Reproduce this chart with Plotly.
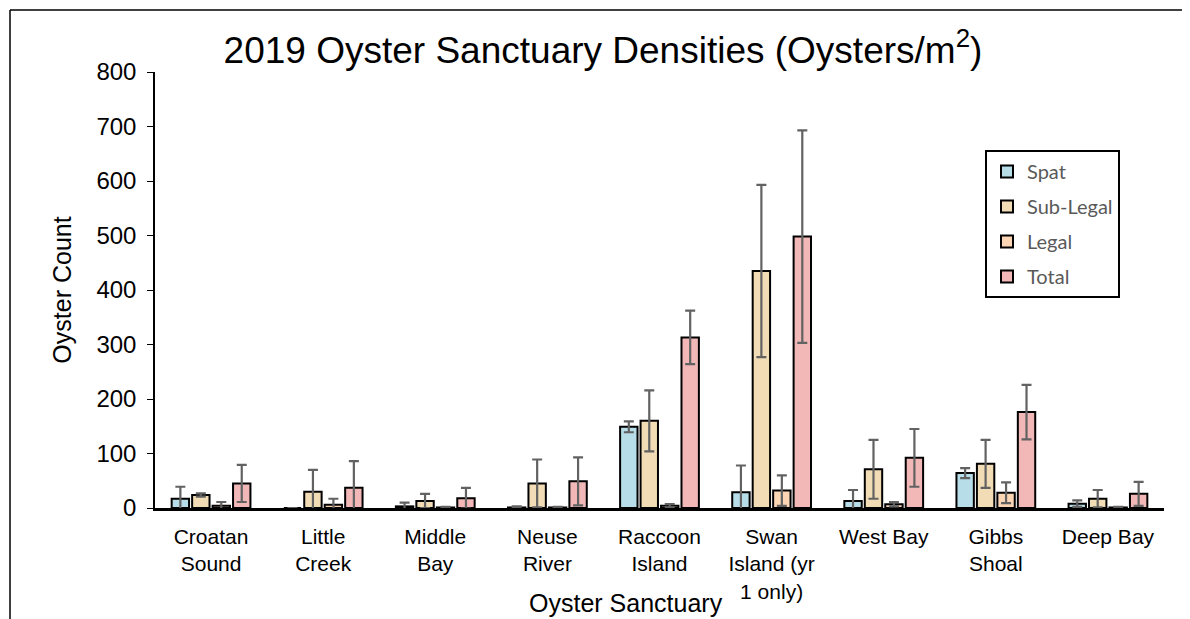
import plotly.graph_objects as go

categories = ["Croatan<br>Sound", "Little<br>Creek", "Middle<br>Bay", "Neuse<br>River",
              "Raccoon<br>Island", "Swan<br>Island (yr<br>1 only)", "West Bay",
              "Gibbs<br>Shoal", "Deep Bay"]

spat = [17, 0, 3, 1, 149, 29, 13, 64, 8]
spat_err = [22, 0, 7, 2, 10, 49, 20, 9, 6]

sublegal = [24, 30, 13, 45, 160, 435, 71, 81, 17]
sublegal_err = [3, 40, 13, 44, 56, 158, 54, 44, 16]

legal = [4, 6, 1, 1, 4, 32, 7, 28, 1]
legal_err = [7, 11, 1, 1, 3, 28, 4, 19, 1]

total = [45, 37, 18, 49, 313, 498, 92, 176, 26]
total_err = [34, 49, 19, 44, 49, 195, 53, 50, 22]

series = [
    ("Spat", spat, spat_err, "#B7DEE8"),
    ("Sub-Legal", sublegal, sublegal_err, "#F2DCB5"),
    ("Legal", legal, legal_err, "#FCD5B5"),
    ("Total", total, total_err, "#F2B8B8"),
]

# page offsets (browser body margin = 8px)
OFF = 8
W, H = 1190 - OFF, 619 - OFF
PL, PR, PT, PB = 155, 1164, 72, 508  # plot area in page pixels
pw, ph = PR - PL, PB - PT


def xp(px):
    return (px - PL) / pw


def yp(py):
    return (PB - py) / ph


fig = go.Figure()
for name, vals, errs, color in series:
    fig.add_trace(go.Bar(
        name=name, x=categories, y=vals, legendgroup=name,
        marker=dict(color=color, line=dict(color="black", width=2)),
        error_y=dict(type="data", array=errs, visible=True,
                     color="#626262", thickness=2.2, width=5),
    ))

fig.update_layout(
    width=W, height=H,
    margin=dict(l=PL - OFF, r=W + OFF - PR, t=PT - OFF, b=H + OFF - PB),
    paper_bgcolor="white", plot_bgcolor="white",
    barmode="group", bargap=0.27, bargroupgap=0.15,
    font=dict(family="Liberation Sans, Arial", size=21, color="black"),
    title=dict(text="2019 Oyster Sanctuary Densities (Oysters/m<sup>2</sup>)",
               x=(603 - OFF) / W, xanchor="center", xref="container",
               y=1 - (50 - OFF) / H, yanchor="middle", yref="container",
               font=dict(size=37, color="black")),
    showlegend=True,
    legend=dict(x=xp(985), y=yp(150), xanchor="left", yanchor="top",
                bordercolor="black", borderwidth=2, bgcolor="white",
                font=dict(family="Lato, Liberation Sans", size=20, color="#595959"),
                tracegroupgap=6, itemwidth=30),
    xaxis=dict(showline=True, linecolor="black", linewidth=2.5, ticks="",
               tickfont=dict(size=21), showgrid=False, ticklabelstandoff=8),
    yaxis=dict(range=[0, 800], dtick=100, showline=True, linecolor="black",
               linewidth=1.5, ticks="outside", ticklen=6, tickcolor="black",
               showgrid=False, zeroline=False, tickfont=dict(size=24),
               ticklabelstandoff=6,
               title=dict(text="Oyster Count", font=dict(size=25), standoff=18)),
    annotations=[dict(text="Oyster Sanctuary", x=xp(626), y=yp(603),
                      xref="paper", yref="paper", xanchor="center", yanchor="middle",
                      showarrow=False, font=dict(size=25))],
)

# outer chart frame (left and top edges visible)
fig.add_shape(type="line", xref="paper", yref="paper",
              x0=xp(10), x1=xp(1200), y0=yp(10), y1=yp(10),
              line=dict(color="black", width=1.5))
fig.add_shape(type="line", xref="paper", yref="paper",
              x0=xp(10), x1=xp(10), y0=yp(10), y1=yp(630),
              line=dict(color="black", width=1.5))

fig.write_html("out.html")
